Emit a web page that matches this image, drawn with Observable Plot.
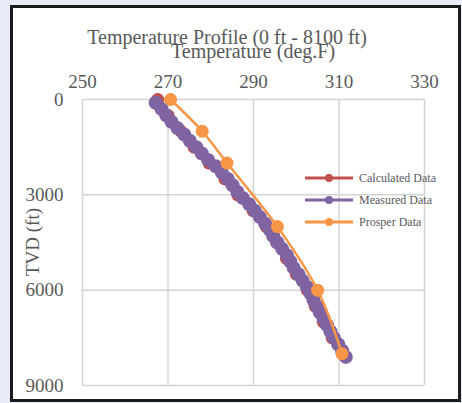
<!DOCTYPE html>
<html>
<head>
<meta charset="utf-8">
<script src="https://cdn.jsdelivr.net/npm/d3@7"></script>
<script src="https://cdn.jsdelivr.net/npm/@observablehq/plot@0.6"></script>
<style>
  html, body { margin: 0; padding: 0; background: #e7ecf7; }
  #wrap { position: relative; width: 462px; height: 403px; overflow: hidden; font-family: "Liberation Serif", serif; color: #595959; }
  #panel { position: absolute; left: 10px; top: 5px; width: 451px; height: 397px; box-sizing: border-box; border: 3px solid #1c1c1c; background: #fff; }
  #chart { position: absolute; left: 0; top: 0; }
  .txt { position: absolute; white-space: nowrap; line-height: 1; }
  #title { font-size: 20px; left: 227px; top: 37px; transform: translate(-50%, -50%); }
  #xlabel { font-size: 20px; left: 253px; top: 51px; transform: translate(-50%, -50%); }
  #ylabel { font-size: 19px; left: 32px; top: 242px; transform: translate(-50%, -50%) rotate(-90deg); }
  .leg { position: absolute; left: 305px; height: 12px; display: flex; align-items: center; font-size: 12px; white-space: nowrap; }
  .leg svg { margin-right: 6px; }
</style>
</head>
<body>
<div id="wrap">
  <div id="panel"></div>
  <div id="chart"></div>
  <div class="txt" id="title">Temperature Profile (0 ft - 8100 ft)</div>
  <div class="txt" id="xlabel">Temperature (deg.F)</div>
  <div class="txt" id="ylabel">TVD (ft)</div>
  <div id="legend"></div>
</div>
<script>
// ---- data ----
const xTicks = [250, 270, 290, 310, 330];
const yTicks = [0, 3000, 6000, 9000];

const seriesNames = ["Calculated Data", "Measured Data", "Prosper Data"];
const seriesColors = ["#c0504d", "#8064a2", "#f79646"];

const calcDepth = [0, 500, 1000, 1500, 2000, 2500, 3000, 3500, 4000, 4500, 5000, 5500, 6000, 6500, 7000, 7500, 8000];
const calcTemp  = [267.6, 270.0, 273.0, 276.1, 279.6, 283.3, 286.3, 289.9, 293.0, 295.4, 297.7, 300.0, 302.6, 304.4, 306.3, 308.4, 310.8];

const measDepth = [100, 300, 500, 700, 900, 1100, 1300, 1500, 1700, 1900, 2100, 2300, 2500, 2700, 2900, 3100, 3300, 3500, 3700, 3900, 4100, 4300, 4500, 4700, 4900, 5100, 5300, 5500, 5700, 5900, 6100, 6300, 6500, 6700, 6900, 7100, 7300, 7500, 7700, 7900, 8100];
const measTemp  = [267.1, 268.5, 269.6, 270.8, 272.2, 273.8, 275.1, 276.6, 277.9, 279.4, 281.2, 282.6, 284.0, 285.1, 286.2, 287.5, 289.0, 290.3, 291.5, 292.7, 293.8, 294.6, 295.6, 296.7, 297.8, 298.6, 299.4, 300.5, 301.5, 302.5, 303.3, 304.0, 304.8, 305.5, 306.4, 307.2, 308.0, 308.8, 309.8, 310.7, 311.6];

const prosDepth = [0, 1000, 2000, 4000, 6000, 8000];
const prosTemp  = [270.6, 278.0, 283.8, 295.6, 305.0, 310.7];

const toRows = (ds, ts) => ds.map((d, i) => ({depth: d, temp: ts[i]}));
const calc = toRows(calcDepth, calcTemp);
const meas = toRows(measDepth, measTemp);
const pros = toRows(prosDepth, prosTemp);

const font = "Liberation Serif, serif";

const chart = Plot.plot({
  width: 462,
  height: 403,
  marginLeft: 82,
  marginRight: 38,
  marginTop: 99,
  marginBottom: 18,
  style: { background: "transparent", fontFamily: font, fontSize: "19px", color: "#595959", overflow: "visible" },
  x: { domain: [250, 330] },
  y: { domain: [0, 9000], reverse: true },
  marks: [
    Plot.gridX(xTicks, { stroke: "#d4d4d4", strokeOpacity: 1, strokeWidth: 1.5 }),
    Plot.gridY(yTicks, { stroke: "#d4d4d4", strokeOpacity: 1, strokeWidth: 1.5 }),
    Plot.axisX(xTicks, { anchor: "top", tickSize: 0, tickPadding: 12, label: null, fill: "#595959", fontSize: 19, tickFormat: d => String(d) }),
    Plot.axisY(yTicks, { anchor: "left", tickSize: 0, tickPadding: 19, label: null, fill: "#595959", fontSize: 19, tickFormat: d => String(d) }),
    Plot.line(calc, { x: "temp", y: "depth", stroke: seriesColors[0], strokeWidth: 3, curve: "catmull-rom" }),
    Plot.dot(calc, { x: "temp", y: "depth", fill: seriesColors[0], r: 6.5 }),
    Plot.line(meas, { x: "temp", y: "depth", stroke: seriesColors[1], strokeWidth: 3, curve: "catmull-rom" }),
    Plot.dot(meas, { x: "temp", y: "depth", fill: seriesColors[1], r: 7 }),
    Plot.line(pros, { x: "temp", y: "depth", stroke: seriesColors[2], strokeWidth: 2.5, curve: "catmull-rom" }),
    Plot.dot(pros, { x: "temp", y: "depth", fill: seriesColors[2], r: 6.5 })
  ]
});
document.getElementById("chart").appendChild(chart);

// legend
const legend = document.getElementById("legend");
const legendTops = [172, 194, 216];
seriesNames.forEach((name, i) => {
  const row = document.createElement("div");
  row.className = "leg";
  row.style.top = legendTops[i] + "px";
  row.innerHTML = `<svg width="48" height="12"><line x1="0" y1="6" x2="48" y2="6" stroke="${seriesColors[i]}" stroke-width="3"/><circle cx="24" cy="6" r="4" fill="${seriesColors[i]}"/></svg><span>${name}</span>`;
  legend.appendChild(row);
});
</script>
</body>
</html>
